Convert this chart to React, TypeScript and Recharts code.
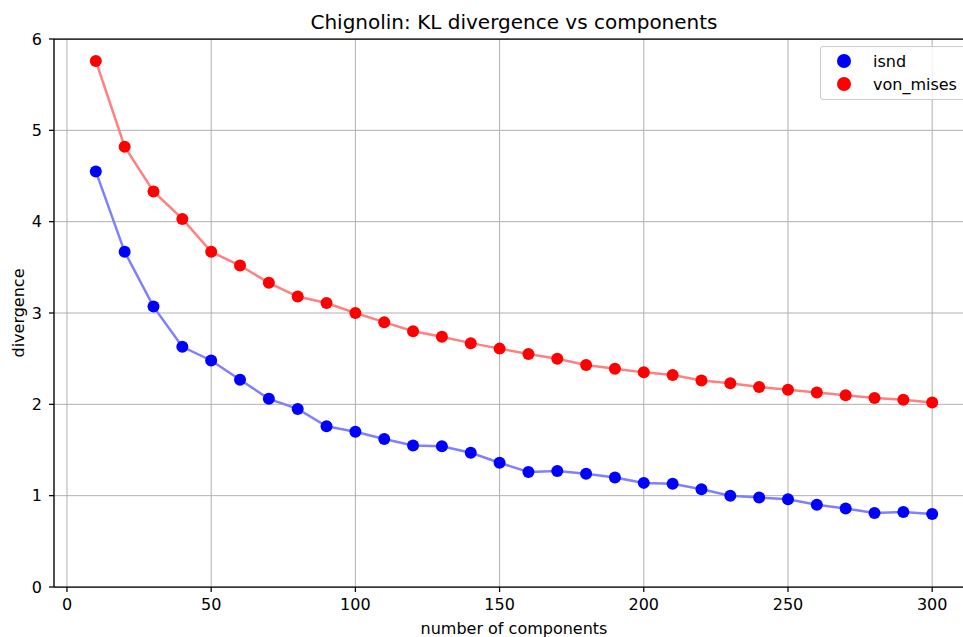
import React from 'react';
import {
  LineChart, Line, XAxis, YAxis, CartesianGrid, Legend, ReferenceLine
} from 'recharts';

const components = [10, 20, 30, 40, 50, 60, 70, 80, 90, 100, 110, 120, 130, 140, 150, 160, 170, 180, 190, 200, 210, 220, 230, 240, 250, 260, 270, 280, 290, 300];
const isnd = [4.55, 3.67, 3.07, 2.63, 2.48, 2.27, 2.06, 1.95, 1.76, 1.70, 1.62, 1.55, 1.54, 1.47, 1.36, 1.26, 1.27, 1.24, 1.20, 1.14, 1.13, 1.07, 1.00, 0.98, 0.96, 0.90, 0.86, 0.81, 0.82, 0.80];
const vonMises = [5.76, 4.82, 4.33, 4.03, 3.67, 3.52, 3.33, 3.18, 3.11, 3.00, 2.90, 2.80, 2.74, 2.67, 2.61, 2.55, 2.50, 2.43, 2.39, 2.35, 2.32, 2.26, 2.23, 2.19, 2.16, 2.13, 2.10, 2.07, 2.05, 2.02];
const xTicks = [0, 50, 100, 150, 200, 250, 300];
const yTicks = [0, 1, 2, 3, 4, 5, 6];

const data = components.map((c, i) => ({ n: c, isnd: isnd[i], von_mises: vonMises[i] }));

const FONT = '"DejaVu Sans", sans-serif';

const legendItems = [
  { name: 'isnd', color: '#0000ff' },
  { name: 'von_mises', color: '#ff0000' },
];

const LegendBox = () => (
  <div style={{
    width: 155, height: 54, boxSizing: 'border-box', border: '1px solid #cccccc', borderRadius: 3,
    background: 'rgba(255,255,255,0.8)', fontFamily: FONT, fontSize: 16, position: 'relative',
  }}>
    {legendItems.map((it, i) => (
      <div key={it.name} style={{ position: 'absolute', left: 0, top: 3 + i * 23, height: 22, display: 'flex', alignItems: 'center' }}>
        <svg width={40} height={22} style={{ marginLeft: 8 }}>
          <circle cx={15} cy={11} r={7} fill={it.color} />
        </svg>
        <span style={{ marginLeft: 4, color: '#000' }}>{it.name}</span>
      </div>
    ))}
  </div>
);

const App: React.FC = () => {
  return (
    <div style={{ position: 'fixed', left: 0, top: 0, width: 963, height: 637, overflow: 'hidden', background: '#fff' }}>
      <div style={{
        position: 'absolute', left: 0, width: 1028, top: 10, textAlign: 'center',
        fontFamily: FONT, fontSize: 20, color: '#000',
      }}>
        Chignolin: KL divergence vs components
      </div>
      <LineChart width={1010} height={637} data={data} margin={{ top: 39, right: 36, bottom: 0, left: 0 }}>
        <CartesianGrid stroke="#b0b0b0" strokeWidth={1} />
        <XAxis
          dataKey="n" type="number" domain={[-4.5, 314.5]} ticks={xTicks} allowDataOverflow
          height={50} tickSize={5} tickMargin={7} stroke="#000" strokeWidth={1.25}
          tick={{ fill: '#000', fontSize: 16, fontFamily: FONT }}
          label={({ viewBox }: any) => (
            <text x={viewBox.x + viewBox.width / 2} y={viewBox.y + 41} textAnchor="middle" dominantBaseline="central"
              fontSize={16} fontFamily={FONT} fill="#000">number of components</text>
          )}
        />
        <YAxis
          type="number" domain={[0, 6]} ticks={yTicks} allowDataOverflow
          width={54} tickSize={5} tickMargin={7} stroke="#000" strokeWidth={1.25}
          tick={{ fill: '#000', fontSize: 16, fontFamily: FONT }}
          label={({ viewBox }: any) => (
            <text x={18} y={viewBox.y + viewBox.height / 2} textAnchor="middle" dominantBaseline="central"
              transform={`rotate(-90, 18, ${viewBox.y + viewBox.height / 2})`}
              fontSize={16} fontFamily={FONT} fill="#000">divergence</text>
          )}
        />
        <ReferenceLine y={6} stroke="#000" strokeWidth={1.25} />
        <Line dataKey="isnd" stroke="#8080ff" strokeWidth={2.5} isAnimationActive={false}
          dot={{ r: 6, fill: '#0000ff', stroke: 'none' }} />
        <Line dataKey="von_mises" stroke="#ff8080" strokeWidth={2.5} isAnimationActive={false}
          dot={{ r: 6, fill: '#ff0000', stroke: 'none' }} />
        <Legend layout="vertical" align="center" verticalAlign="middle" content={() => <LegendBox />}
          wrapperStyle={{ left: 820, top: 46, width: 155 }} />
      </LineChart>
    </div>
  );
};

export default App;
